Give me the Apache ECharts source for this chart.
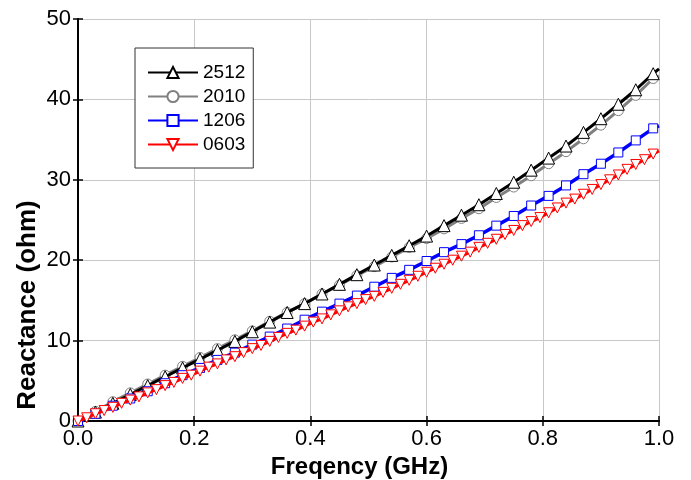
<!DOCTYPE html>
<html>
<head>
<meta charset="utf-8">
<script src="https://cdn.jsdelivr.net/npm/echarts@6/dist/echarts.min.js"></script>
<style>
  html, body { margin: 0; padding: 0; background: #ffffff; }
  #chart { width: 691px; height: 480px; }
</style>
</head>
<body>
<div id="chart"></div>
<script>
// frequency grid (GHz) for 2512 / 2010 / 1206 (every 0.03) and the finer 0603 sweep
const freqCoarse = [0, 0.03, 0.06, 0.09, 0.12, 0.15, 0.18, 0.21, 0.24, 0.27, 0.30, 0.33, 0.36, 0.39,
  0.42, 0.45, 0.48, 0.51, 0.54, 0.57, 0.60, 0.63, 0.66, 0.69, 0.72, 0.75, 0.78, 0.81, 0.84, 0.87,
  0.90, 0.93, 0.96, 0.99, 1.0];
const freqFine = [0, 0.015, 0.03, 0.045, 0.06, 0.075, 0.09, 0.105, 0.12, 0.135, 0.15, 0.165, 0.18,
  0.195, 0.21, 0.225, 0.24, 0.255, 0.27, 0.285, 0.30, 0.315, 0.33, 0.345, 0.36, 0.375, 0.39, 0.405,
  0.42, 0.435, 0.45, 0.465, 0.48, 0.495, 0.51, 0.525, 0.54, 0.555, 0.57, 0.585, 0.60, 0.615, 0.63,
  0.645, 0.66, 0.675, 0.69, 0.705, 0.72, 0.735, 0.75, 0.765, 0.78, 0.795, 0.81, 0.825, 0.84, 0.855,
  0.87, 0.885, 0.90, 0.915, 0.93, 0.945, 0.96, 0.975, 0.99, 1.0];

// reactance (ohm)
const x2512 = [0, 1.1, 2.2, 3.3, 4.4, 5.5, 6.6, 7.7, 8.8, 9.9, 11.1, 12.3, 13.5, 14.6, 15.8, 17.0,
  18.2, 19.4, 20.6, 21.8, 23.0, 24.3, 25.6, 26.9, 28.3, 29.7, 31.2, 32.7, 34.2, 35.9, 37.6, 39.4,
  41.2, 43.2, 43.8];
const x2010 = [0, 1.2, 2.4, 3.5, 4.6, 5.7, 6.8, 7.9, 9.0, 10.1, 11.2, 12.4, 13.5, 14.6, 15.8, 16.9,
  18.1, 19.2, 20.4, 21.6, 22.7, 23.9, 25.2, 26.4, 27.8, 29.1, 30.5, 32.0, 33.5, 35.1, 36.8, 38.6,
  40.5, 42.6, 42.9];
const x1206 = [0, 0.9, 1.9, 2.8, 3.7, 4.7, 5.7, 6.6, 7.6, 8.5, 9.5, 10.5, 11.5, 12.6, 13.6, 14.6,
  15.6, 16.7, 17.8, 18.8, 19.9, 21.0, 22.0, 23.1, 24.3, 25.5, 26.8, 28.0, 29.3, 30.7, 32.0, 33.4,
  34.9, 36.4, 36.7];
const x0603 = [0, 0.4, 0.9, 1.3, 1.7, 2.2, 2.6, 3.0, 3.5, 3.9, 4.4, 4.8, 5.3, 5.7, 6.2, 6.7, 7.1,
  7.6, 8.0, 8.5, 9.0, 9.4, 9.9, 10.4, 10.9, 11.3, 11.8, 12.3, 12.7, 13.2, 13.7, 14.2, 14.6, 15.1,
  15.5, 16.0, 16.5, 17.0, 17.5, 18.0, 18.5, 19.0, 19.5, 20.0, 20.5, 21.0, 21.6, 22.1, 22.6, 23.2,
  23.7, 24.3, 24.8, 25.3, 25.9, 26.5, 27.1, 27.6, 28.2, 28.8, 29.4, 30.0, 30.6, 31.3, 31.9, 32.5,
  33.2, 33.6];

const xTicks = [0, 0.2, 0.4, 0.6, 0.8, 1.0];
const yTicks = [0, 10, 20, 30, 40, 50];

const FONT = 'Liberation Sans, Arial, sans-serif';

// last point only closes the line at 1 GHz, no marker there
function pairs(freq, vals) {
  return vals.map((v, i) => (i === vals.length - 1
    ? { value: [freq[i], v], symbol: 'none' }
    : [freq[i], v]));
}

function makeSeries(name, freq, vals, color, symbol, size, width, z, rotate) {
  return {
    name: name,
    type: 'line',
    data: pairs(freq, vals),
    symbol: symbol,
    symbolSize: size,
    symbolRotate: rotate || 0,
    showAllSymbol: true,
    z: z,
    lineStyle: { color: color, width: width },
    itemStyle: { color: '#ffffff', borderColor: color, borderWidth: 1 },
    emphasis: { disabled: true },
    animation: false,
  };
}

const chart = echarts.init(document.getElementById('chart'), null, { renderer: 'canvas' });

const baseAxisLine = { show: true, lineStyle: { color: '#000', width: 2 } };
const baseTick = { show: true, inside: true, length: 5, lineStyle: { color: '#000', width: 1.5 } };

const option = {
  backgroundColor: '#ffffff',
  animation: false,
  grid: { left: 78, right: 32, top: 19, bottom: 59, containLabel: false, outerBoundsMode: 'none' },
  legend: {
    orient: 'vertical',
    left: 135,
    top: 48,
    data: ['2512', '2010', '1206', '0603'],
    itemWidth: 50,
    itemHeight: 14,
    itemGap: 5,
    padding: [15, 8, 14, 12],
    backgroundColor: '#ffffff',
    borderColor: '#333333',
    borderWidth: 1,
    borderRadius: 0,
    textStyle: { fontFamily: FONT, fontSize: 19, color: '#000', lineHeight: 18 },
  },
  xAxis: [
    {
      type: 'value',
      min: xTicks[0],
      max: xTicks[xTicks.length - 1],
      interval: 0.2,
      name: 'Freqency (GHz)',
      nameLocation: 'middle',
      nameGap: 34,
      nameTextStyle: { fontFamily: FONT, fontSize: 24, fontWeight: 'bold', color: '#000', padding: [0, 18, 0, 0] },
      axisLine: baseAxisLine,
      axisTick: baseTick,
      axisLabel: {
        fontFamily: FONT, fontSize: 22, color: '#000', margin: 7,
        formatter: (v) => v.toFixed(1),
      },
      splitLine: { show: true, lineStyle: { color: '#c8c8c8', width: 1 } },
    },
    {
      type: 'value',
      position: 'top',
      min: 0,
      max: 1,
      interval: 0.2,
      axisLine: baseAxisLine,
      axisTick: baseTick,
      axisLabel: { show: false },
      splitLine: { show: false },
    },
  ],
  yAxis: [
    {
      type: 'value',
      min: yTicks[0],
      max: yTicks[yTicks.length - 1],
      interval: 10,
      axisLine: baseAxisLine,
      axisTick: baseTick,
      axisLabel: { fontFamily: FONT, fontSize: 22, color: '#000', margin: 7 },
      splitLine: { show: true, lineStyle: { color: '#c8c8c8', width: 1 } },
    },
    {
      type: 'value',
      position: 'right',
      min: 0,
      max: 50,
      interval: 10,
      axisLine: baseAxisLine,
      axisTick: baseTick,
      axisLabel: { show: false },
      splitLine: { show: false },
    },
  ],
  graphic: [
    {
      type: 'text',
      x: 28,
      y: 305,
      rotation: Math.PI / 2,
      style: {
        text: 'Reactance (ohm)',
        fill: '#000',
        font: 'bold 26px ' + FONT,
        textAlign: 'center',
        textVerticalAlign: 'middle',
      },
    },
  ],
  series: [
    makeSeries('2010', freqCoarse, x2010, '#808080', 'circle', 10, 3, 2),
    makeSeries('2512', freqCoarse, x2512, '#000000', 'triangle', 12, 3, 3),
    makeSeries('1206', freqCoarse, x1206, '#0000ff', 'rect', 9, 3.5, 4),
    makeSeries('0603', freqFine, x0603, '#ff0000', 'triangle', 10, 3, 5, 180),
  ],
};

chart.setOption(option);
</script>
</body>
</html>
